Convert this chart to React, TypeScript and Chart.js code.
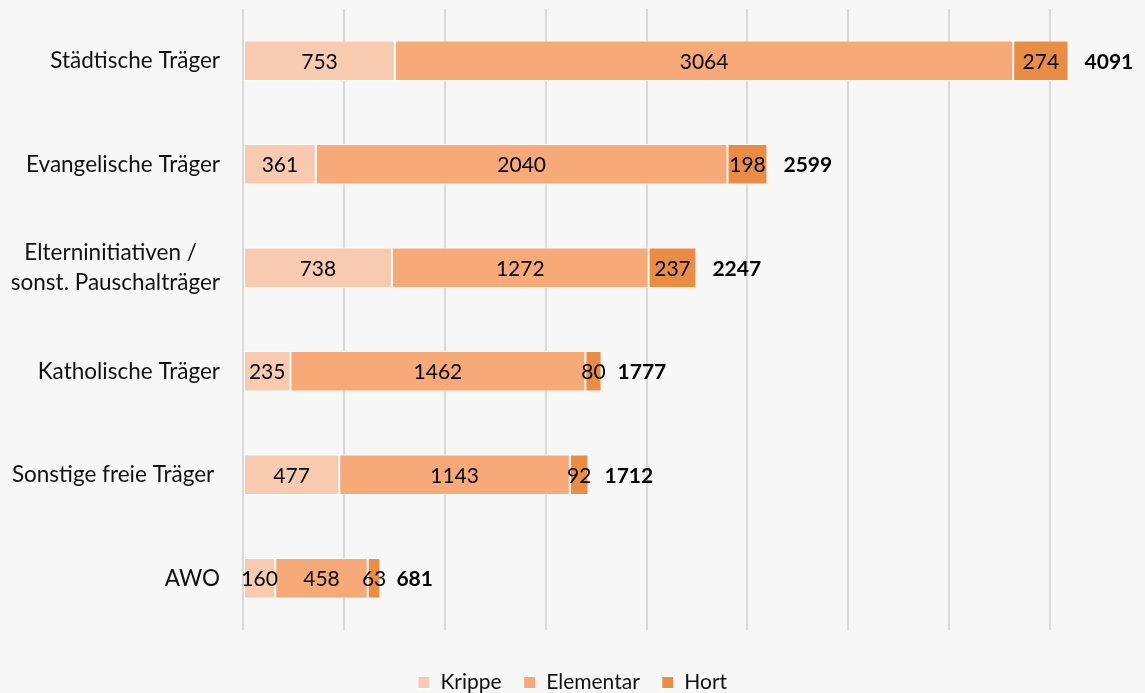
import { useEffect, useRef } from "react";
import { Chart, registerables } from "chart.js";

Chart.register(...registerables);

const FONT = "Lato, 'Open Sans', sans-serif";

const categories: (string | string[])[] = [
  "Städtische Träger",
  "Evangelische Träger",
  ["Elterninitiativen /    ", "sonst. Pauschalträger"],
  "Katholische Träger",
  "Sonstige freie Träger ",
  "AWO",
];
const seriesNames = ["Krippe", "Elementar", "Hort"];
const krippe = [753, 361, 738, 235, 477, 160];
const elementar = [3064, 2040, 1272, 1462, 1143, 458];
const hort = [274, 198, 237, 80, 92, 63];
const totals = [4091, 2599, 2247, 1777, 1712, 681];
const gridValues = [0, 500, 1000, 1500, 2000, 2500, 3000, 3500, 4000];
const seriesColors = ["#f8cbb0", "#f7aa78", "#e98d44"];

const labelPlugin = {
  id: "barLabels",
  afterDatasetsDraw(chart: any) {
    const ctx = chart.ctx;
    ctx.save();
    ctx.fillStyle = "#000";
    ctx.textBaseline = "middle";
    ctx.font = `21px ${FONT}`;
    ctx.textAlign = "center";
    chart.data.datasets.forEach((ds: any, di: number) => {
      const meta = chart.getDatasetMeta(di);
      meta.data.forEach((bar: any, i: number) => {
        const p = bar.getProps(["x", "y", "base"], true);
        ctx.fillText(String(ds.data[i]), (p.x + p.base) / 2, p.y + 1);
      });
    });
    const last = chart.getDatasetMeta(chart.data.datasets.length - 1);
    ctx.font = `bold 21px ${FONT}`;
    ctx.textAlign = "left";
    last.data.forEach((bar: any, i: number) => {
      const p = bar.getProps(["x", "y"], true);
      ctx.fillText(String(totals[i]), p.x + 16, p.y + 1);
    });
    ctx.restore();
  },
};

export default function App() {
  const ref = useRef<HTMLCanvasElement | null>(null);
  useEffect(() => {
    if (!ref.current) return;
    const series = [krippe, elementar, hort];
    const chart = new Chart(ref.current, {
      type: "bar",
      data: {
        labels: categories,
        datasets: series.map((d, i) => ({
          label: seriesNames[i],
          data: d,
          backgroundColor: seriesColors[i],
          borderColor: "#ffffff",
          borderWidth: 1,
          borderSkipped: false,
          barPercentage: 0.39,
          categoryPercentage: 1,
        })),
      },
      options: {
        indexAxis: "y",
        responsive: false,
        animation: false,
        layout: { padding: { top: 9, right: 0, bottom: 0, left: 0 } },
        plugins: {
          tooltip: { enabled: false },
          legend: {
            position: "bottom",
            labels: {
              boxWidth: 12,
              boxHeight: 12,
              padding: 22,
              color: "#111",
              font: { family: FONT, size: 21 },
            },
          },
        },
        scales: {
          x: {
            stacked: true,
            min: 0,
            max: 4470,
            ticks: { display: false },
            afterBuildTicks: (axis: any) => {
              axis.ticks = gridValues.map((v) => ({ value: v }));
            },
            grid: { lineWidth: 2, drawTicks: false, color: "#d9d9d9" },
            border: { display: false },
            afterFit: (s: any) => {
              s.height = 20;
              s.paddingLeft = 0;
              s.paddingRight = 0;
            },
          },
          y: {
            stacked: true,
            grid: { display: false, drawTicks: false },
            border: { display: false },
            ticks: {
              padding: 23,
              color: "#111",
              font: { family: FONT, size: 22.5, lineHeight: 1.3 },
            },
            afterFit: (s: any) => {
              s.width = 243;
              s.paddingTop = 0;
              s.paddingBottom = 0;
            },
          },
        },
      },
      plugins: [labelPlugin],
    });
    return () => chart.destroy();
  }, []);
  return (
    <div
      style={{
        position: "fixed",
        left: 0,
        top: 0,
        width: 1145,
        height: 693,
        overflow: "hidden",
        background: "#f7f7f7",
      }}
    >
      <canvas ref={ref} width={1145} height={703} style={{ display: "block" }} />
    </div>
  );
}
